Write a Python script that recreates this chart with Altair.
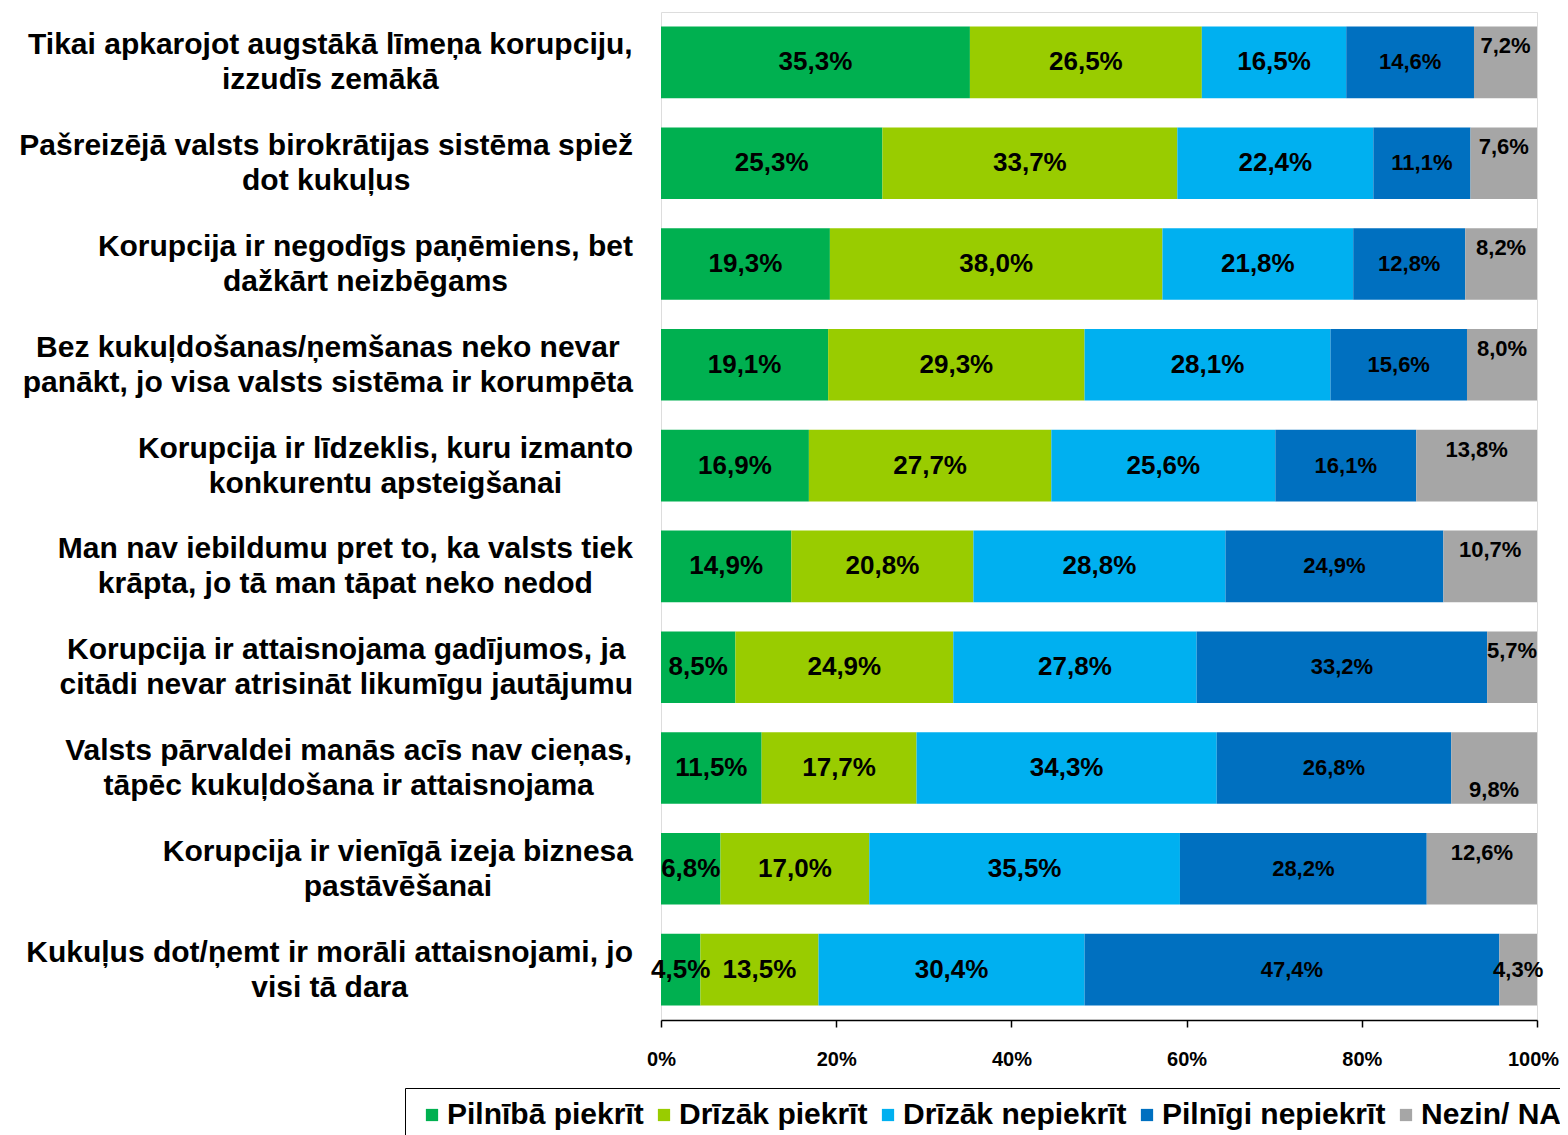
import unicodedata
import altair as alt
import pandas as pd

FONT = "Liberation Sans"

categories = [
    "Tikai apkarojot augstākā līmeņa korupciju,\nizzudīs zemākā",
    "Pašreizējā valsts birokrātijas sistēma spiež\ndot kukuļus",
    "Korupcija ir negodīgs paņēmiens, bet\ndažkārt neizbēgams",
    "Bez kukuļdošanas/ņemšanas neko nevar\npanākt, jo visa valsts sistēma ir korumpēta",
    "Korupcija ir līdzeklis, kuru izmanto\nkonkurentu apsteigšanai",
    "Man nav iebildumu pret to, ka valsts tiek\nkrāpta, jo tā man tāpat neko nedod",
    "Korupcija ir attaisnojama gadījumos, ja\ncitādi nevar atrisināt likumīgu jautājumu",
    "Valsts pārvaldei manās acīs nav cieņas,\ntāpēc kukuļdošana ir attaisnojama",
    "Korupcija ir vienīgā izeja biznesa\npastāvēšanai",
    "Kukuļus dot/ņemt ir morāli attaisnojami, jo\nvisi tā dara",
]

series = ["Pilnībā piekrīt", "Drīzāk piekrīt", "Drīzāk nepiekrīt", "Pilnīgi nepiekrīt", "Nezin/ NA"]
colors = ["#00B050", "#99CC00", "#00B0F0", "#0070C0", "#A6A6A6"]

pilniba_piekrit = [35.3, 25.3, 19.3, 19.1, 16.9, 14.9, 8.5, 11.5, 6.8, 4.5]
drizak_piekrit = [26.5, 33.7, 38.0, 29.3, 27.7, 20.8, 24.9, 17.7, 17.0, 13.5]
drizak_nepiekrit = [16.5, 22.4, 21.8, 28.1, 25.6, 28.8, 27.8, 34.3, 35.5, 30.4]
pilnigi_nepiekrit = [14.6, 11.1, 12.8, 15.6, 16.1, 24.9, 33.2, 26.8, 28.2, 47.4]
nezin_na = [7.2, 7.6, 8.2, 8.0, 13.8, 10.7, 5.7, 9.8, 12.6, 4.3]

x_ticks = [0, 0.2, 0.4, 0.6, 0.8, 1.0]

# where the small grey "Nezin/ NA" label sits inside its bar
gray_label_place = ["top", "top", "top", "top", "top", "top", "top", "bottom", "top", "middle"]

# Arial/Liberation Sans Bold advance widths (per 1000 em) for centring the two-line labels
W = {" ": 278, ",": 278, "/": 278, ".": 278, "%": 889, "-": 333,
     "A": 722, "B": 722, "C": 722, "D": 722, "E": 667, "F": 611, "G": 778, "H": 722, "I": 278,
     "J": 556, "K": 722, "L": 611, "M": 833, "N": 722, "O": 778, "P": 667, "R": 722, "S": 667,
     "T": 611, "U": 722, "V": 667, "Z": 611,
     "a": 556, "b": 611, "c": 556, "d": 611, "e": 556, "f": 333, "g": 611, "h": 611, "i": 278,
     "j": 278, "k": 556, "l": 278, "m": 889, "n": 611, "o": 611, "p": 611, "r": 389, "s": 556,
     "t": 333, "u": 611, "v": 556, "z": 500}


def text_w(s, size):
    return sum(W.get(unicodedata.normalize("NFD", ch)[0], 556) for ch in s) * size / 1000.0


CAT_SIZE = 30
LABEL_GAP = 28

cat_keys = [c.replace("\n", " ") for c in categories]
all_series = [pilniba_piekrit, drizak_piekrit, drizak_nepiekrit, pilnigi_nepiekrit, nezin_na]

rows = []
for i, key in enumerate(cat_keys):
    for j, s in enumerate(series):
        rows.append({"cat": key, "series": s, "order": j, "value": all_series[j][i],
                     "place": gray_label_place[i] if j == 4 else "middle"})
df = pd.DataFrame(rows)

catdf = pd.DataFrame({
    "cat": cat_keys,
    "lab": categories,
    "lx": [-LABEL_GAP - max(text_w(line, CAT_SIZE) for line in c.split("\n")) / 2 for c in categories],
})

yscale = alt.Scale(paddingInner=0.29, paddingOuter=0.145)

base = alt.Chart(df).transform_stack(
    stack="value", groupby=["cat"], as_=["x0", "x1"], offset="normalize",
    sort=[alt.SortField("order", order="ascending")],
).transform_calculate(
    xm="(datum.x0 + datum.x1) / 2",
    lbl="replace(format(datum.value, '.1f'), '.', ',') + '%'",
)

bars = base.mark_bar().encode(
    x=alt.X("x0:Q", scale=alt.Scale(domain=[0, 1], nice=False),
            axis=alt.Axis(values=x_ticks, format=".0%", title=None, grid=False,
                          domainColor="black", domainWidth=1.5, tickColor="black",
                          tickSize=7, tickWidth=1.5, labelFontSize=20, labelFontWeight="bold",
                          labelFont=FONT, labelColor="black", labelPadding=22, zindex=1,
                          labelOffset=alt.condition("datum.value == 1", alt.value(-4), alt.value(0)),
                          labelFlush=False, labelOverlap=False)),
    x2="x1:Q",
    y=alt.Y("cat:N", sort=cat_keys, scale=yscale,
            axis=alt.Axis(labels=False, title=None, ticks=True, tickBand="extent",
                          tickSize=6, tickColor="black", tickWidth=2,
                          domainColor="black", domainWidth=2, zindex=1)),
    color=alt.Color("series:N", sort=series, scale=alt.Scale(domain=series, range=colors),
                    legend=alt.Legend(title=None, orient="none", legendX=-256, legendY=1076,
                                      direction="horizontal", columns=5, symbolType="square",
                                      symbolSize=150, symbolStrokeWidth=0, labelFontSize=30,
                                      labelFont=FONT, labelFontWeight="bold", labelColor="black",
                                      labelOffset=0, columnPadding=5, padding=12,
                                      strokeColor="black", labelLimit=0)),
)

def value_text(filter_expr, size, dy):
    return base.transform_filter(filter_expr).mark_text(
        fontSize=size, fontWeight="bold", font=FONT, color="black",
        align="center", baseline="middle", dy=dy,
    ).encode(
        x=alt.X("xm:Q"),
        y=alt.Y("cat:N", sort=cat_keys, axis=None),
        text="lbl:N",
    )

texts = [
    value_text("datum.order < 3", 26, 0),
    value_text("datum.order == 3", 22, 0),
    value_text("datum.order == 4 && datum.place == 'top'", 22, -16),
    value_text("datum.order == 4 && datum.place == 'bottom'", 22, 22),
    value_text("datum.order == 4 && datum.place == 'middle'", 22, 0),
]

cat_text = alt.Chart(catdf).mark_text(
    align="center", baseline="middle", lineBreak="\n", fontSize=CAT_SIZE,
    fontWeight="bold", font=FONT, color="black", lineHeight=35, dy=-17,
).encode(
    x=alt.X("lx:Q", scale=None),
    y=alt.Y("cat:N", sort=cat_keys, axis=None),
    text="lab:N",
)

chart = alt.layer(bars, *texts, cat_text).properties(
    width=876, height=1008,
    padding={"left": 653, "top": 4, "right": 23, "bottom": 115},
    autosize=alt.AutoSizeParams(type="none"),
).configure_view(
    stroke="#808080", strokeWidth=2,
).configure(
    font=FONT,
)

chart.save("out.html", embed_options={"renderer": "svg", "actions": False})
